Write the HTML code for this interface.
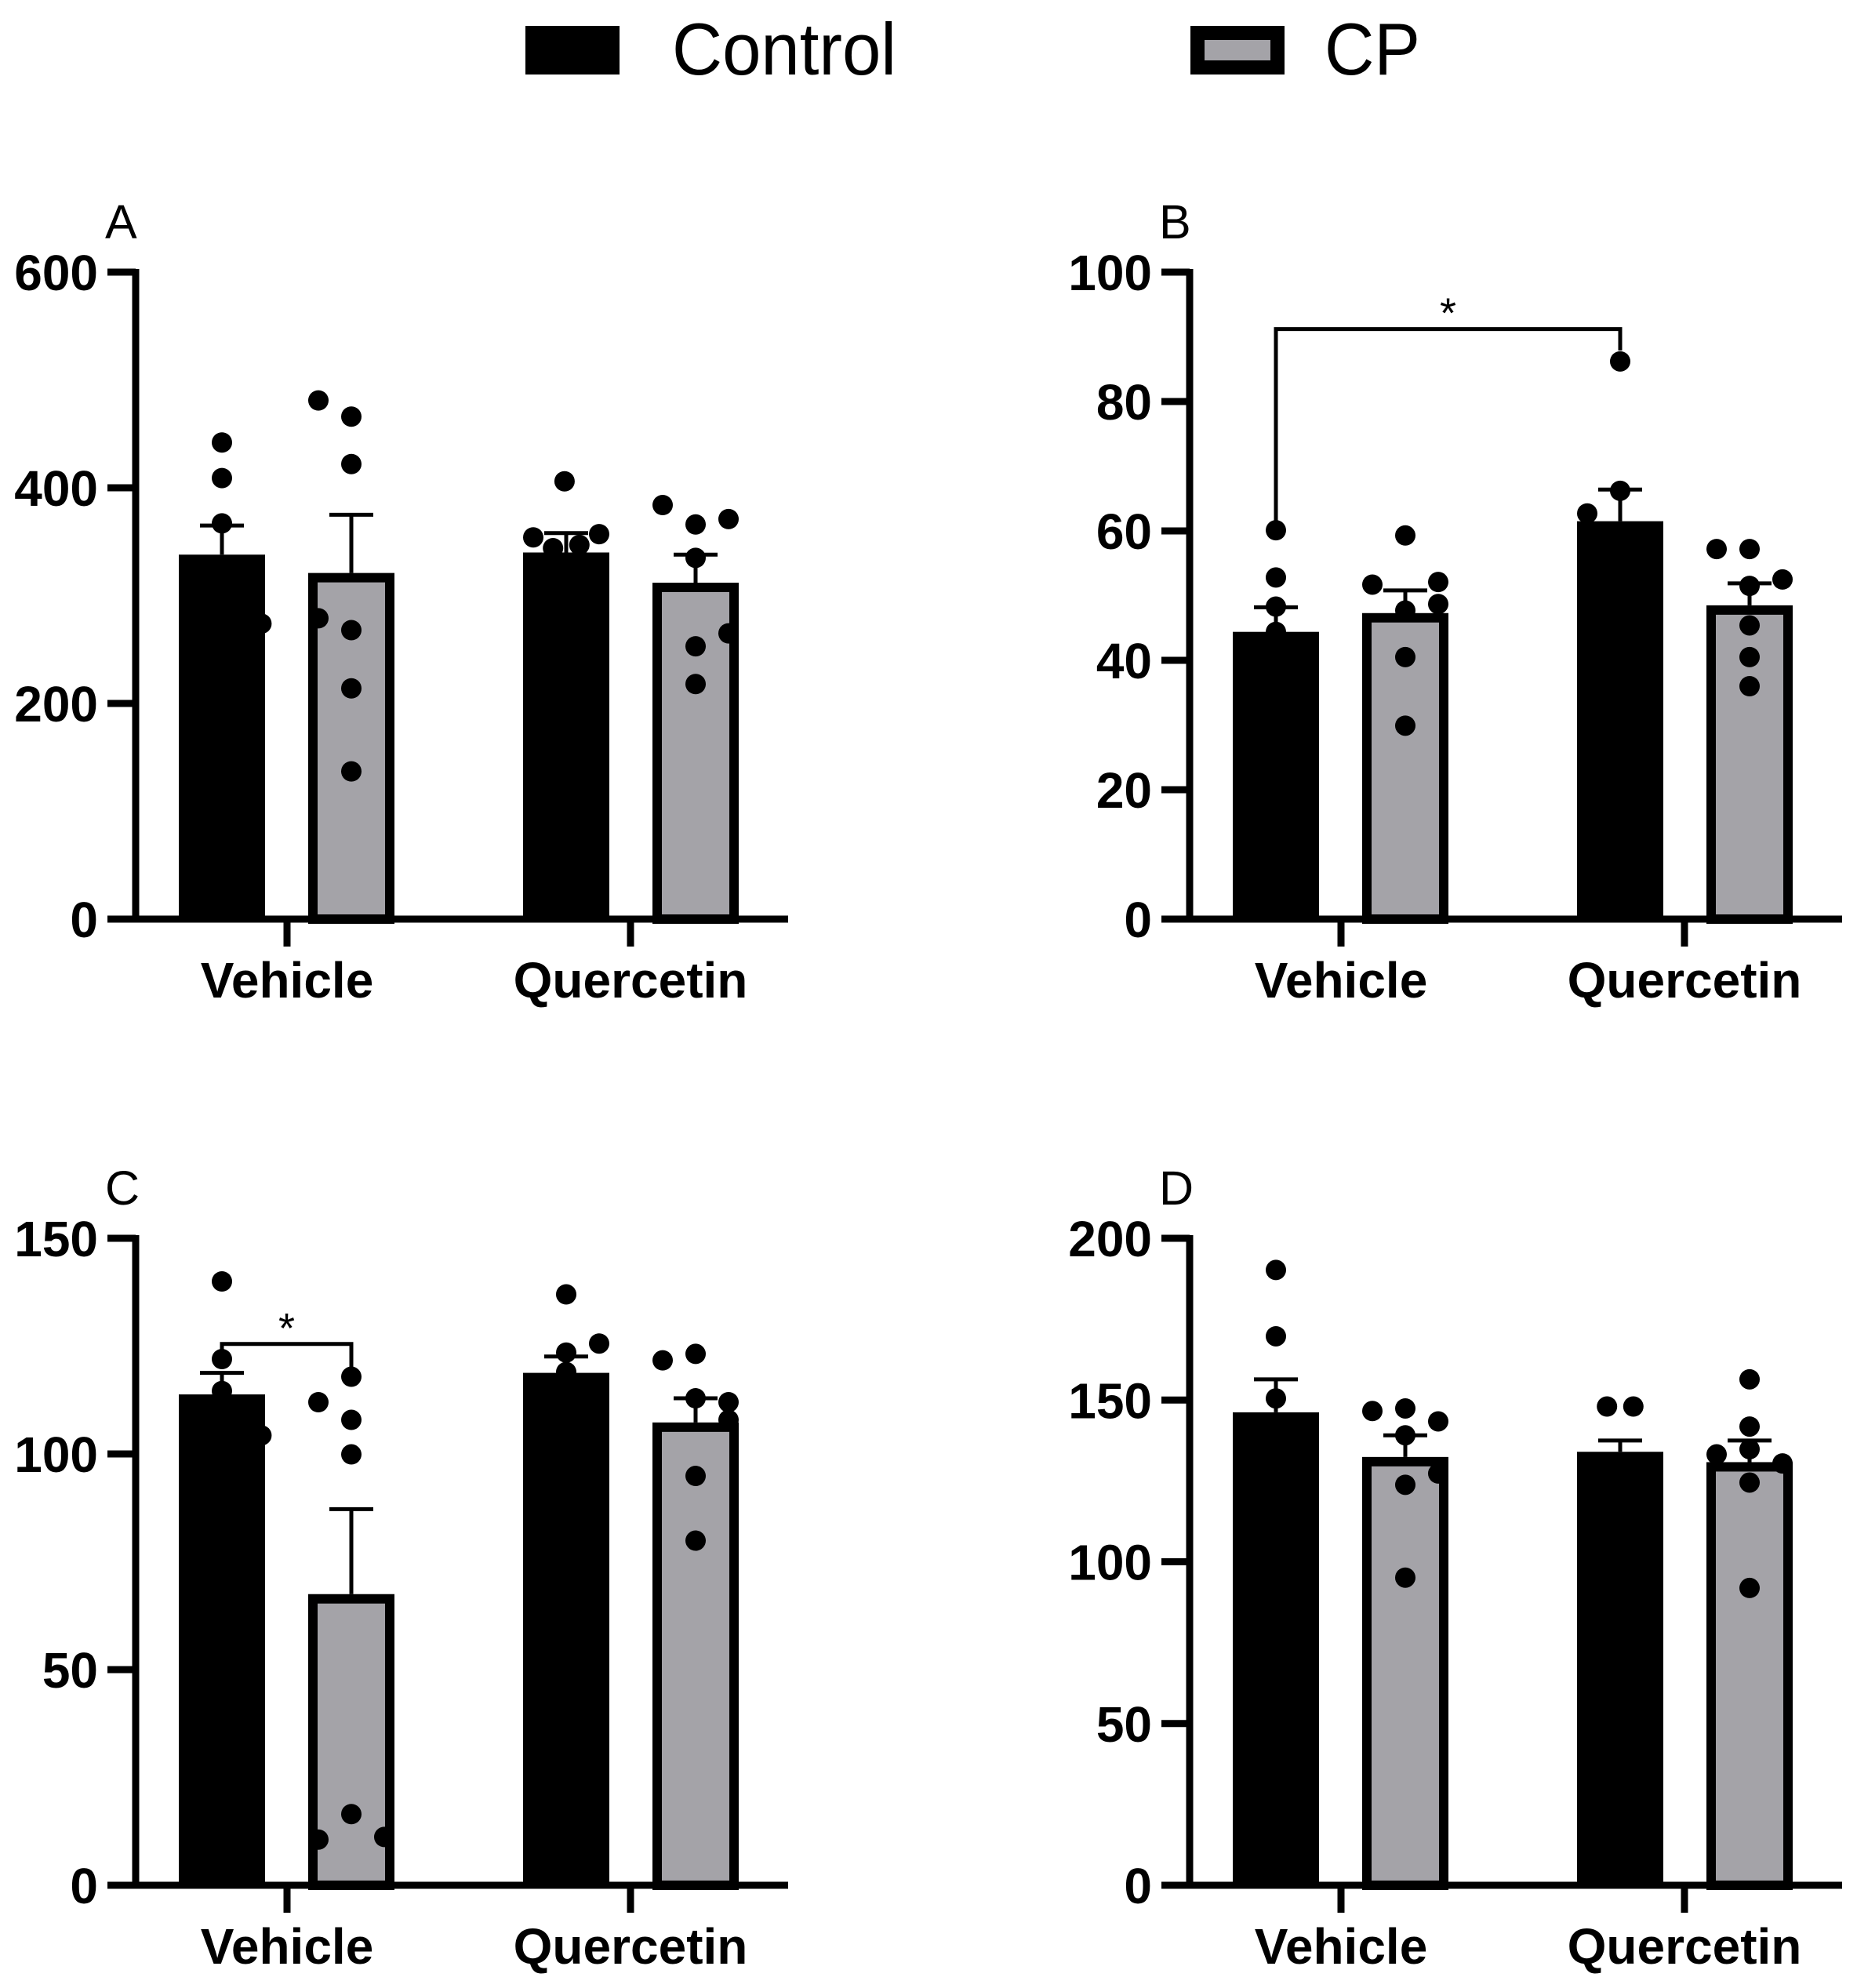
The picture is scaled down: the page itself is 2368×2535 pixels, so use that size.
<!DOCTYPE html>
<html><head><meta charset="utf-8"><style>
html,body{margin:0;padding:0;background:#fff}
svg{display:block}
text{font-family:"Liberation Sans",Arial,sans-serif}
</style></head><body>
<svg id="chart" width="2368" height="2535" viewBox="0 0 2368 2535" xmlns="http://www.w3.org/2000/svg">
<g>
  <rect x="670" y="33" width="120" height="62" fill="#000"/>
  <text x="857" y="95" font-size="94" textLength="286" lengthAdjust="spacingAndGlyphs">Control</text>
  <rect x="1527" y="42" width="102" height="44" fill="#a4a3a8" stroke="#000" stroke-width="18"/>
  <text x="1689" y="95" font-size="94" textLength="122" lengthAdjust="spacingAndGlyphs">CP</text>
</g>
</svg>
<script>
// ---- data ----
const groups = ["Vehicle", "Quercetin"];
const series = ["Control", "CP"];
// order: Control-Vehicle, CP-Vehicle, Control-Quercetin, CP-Quercetin
const aMeans = [338, 321, 340, 312];
const aErr   = [365, 375, 358, 338];
const aDots  = [[442,409,367,274],[481,466,422,279,268,214,137],[406,354,357,344,347],[384,366,371,335,265,253,218]];
const aCols  = [[0,0,0,1.2],[-1,0,0,-1,0,0,0],[-0.05,-1,1,-0.4,0.4],[-1,0,1,0,1,0,0]];
const aTicks = [0,200,400,600];

const bMeans = [44.4, 47.3, 61.5, 48.5];
const bErr   = [48.2, 50.8, 66.4, 51.9];
const bDots  = [[60.1,52.8,48.3,44.4],[59.3,51.7,52.1,47.7,48.7,40.5,29.9],[86.2,66.2,62.7],[57.2,57.2,52.5,51.5,45.4,40.5,36]];
const bCols  = [[0,0,0,0],[0,-1,1,0,1,0,0],[0,0,-1],[-1,0,1,0,0,0,0]];
const bTicks = [0,20,40,60,80,100];

const cMeans = [113.8, 67.5, 118.8, 107.3];
const cErr   = [118.8, 87.2, 122.6, 112.9];
const cDots  = [[140,122,114.6,104.3],[117.9,112,107.9,99.9,16.5,10.6,11.2],[137,125.6,123.5,119],[121.7,123.2,112.9,112,107.9,94.9,79.9]];
const cCols  = [[0,0,0,1.2],[0,-1,0,0,0,-1,1],[0,1,0,0],[-1,0,0,1,1,0,0]];
const cTicks = [0,50,100,150];

const dMeans = [146.2, 132.4, 134, 130.8];
const dErr   = [156.4, 139.1, 137.5, 137.5];
const dDots  = [[190.2,169.7,150.5],[146.6,147.4,143.4,139.1,127.3,123.8,95.1],[148,148],[156.4,141.8,133.2,134.8,130.4,124.5,91.9]];
const dCols  = [[0,0,0],[-1,0,1,0,1,0,0],[-0.4,0.4],[0,0,-1,0,1,0,0]];
const dTicks = [0,50,100,150,200];

const NS = "http://www.w3.org/2000/svg";
const svg = document.getElementById("chart");
function mk(tag, attrs, parent) {
  const e = document.createElementNS(NS, tag);
  for (const k in attrs) e.setAttribute(k, attrs[k]);
  parent.appendChild(e);
  return e;
}

function panel(letter, ox, y0, ymax, ticks, means, err, dots, cols, brackets) {
  const H = 825;
  const y = v => y0 - v / ymax * H;
  const g = mk("g", {}, svg);
  
  
  const lt = mk("text", {x: ox - 39, y: y0 - H - 43, "font-size": 61}, g);
  lt.textContent = letter;
  
  
  const centers = [ox + 110, ox + 275, ox + 549, ox + 714];
  const W = 110;
  for (let i = 0; i < 4; i++) {
    const cp = i % 2 === 1;
    const top = y(means[i]);
    let r;
    if (cp) r = mk("rect", {x: centers[i] - W/2 + 6, y: top + 6, width: W - 12, height: y0 - top - 6, fill: "#a4a3a8", stroke: "#000", "stroke-width": 12}, g);
    else r = mk("rect", {x: centers[i] - W/2, y: top, width: W, height: y0 - top, fill: "#000"}, g);
    
    
    const e = mk("path", {d: `M${centers[i]} ${top} V${y(err[i])} M${centers[i]-28} ${y(err[i])} H${centers[i]+28}`, stroke: "#000", "stroke-width": 5, fill: "none"}, g);
    
    
  }
  for (let i = 0; i < 4; i++) {
    dots[i].forEach((v, j) => {
      const c = mk("circle", {cx: centers[i] + cols[i][j] * 42, cy: y(v), r: 13, fill: "#000"}, g);
      
      
    });
  }
  const ax = mk("path", {d: `M${ox} ${y0 - H - 4} V${y0 + 4} M${ox - 36} ${y0} H${ox + 832}`, stroke: "#000", "stroke-width": 9, fill: "none"}, g);
  
  
  ticks.forEach(t => {
    const tk = mk("path", {d: `M${ox - 36} ${y(t)} H${ox}`, stroke: "#000", "stroke-width": 9}, g);
    
    
    const tl = mk("text", {x: ox - 48, y: y(t) + 23, "font-size": 64, "font-weight": "bold", "text-anchor": "end"}, g);
    tl.textContent = t;
    
    
  });
  [ox + 193, ox + 631].forEach((gx, k) => {
    const tk = mk("path", {d: `M${gx} ${y0} V${y0 + 35}`, stroke: "#000", "stroke-width": 9}, g);
    
    
    const tl = mk("text", {x: gx, y: y0 + 100, "font-size": 64, "font-weight": "bold", "text-anchor": "middle"}, g);
    tl.textContent = groups[k];
    
    
  });
  (brackets || []).forEach(b => {
    const [i1, i2, vy, v1, v2] = b;
    const p = mk("path", {d: `M${centers[i1]} ${y(v1)} V${y(vy)} H${centers[i2]} V${y(v2)}`, stroke: "#000", "stroke-width": 5, fill: "none"}, g);
    
    
    const s = mk("text", {x: (centers[i1] + centers[i2]) / 2, y: y(vy) - 2, "font-size": 54, "text-anchor": "middle"}, g);
    s.textContent = "*";
    
    
  });
}

panel("A", 173, 1172, 600, aTicks, aMeans, aErr, aDots, aCols);
panel("B", 1517, 1172, 100, bTicks, bMeans, bErr, bDots, bCols, [[0, 2, 91.2, 60.6, 87.9]]);
panel("C", 173, 2404, 150, cTicks, cMeans, cErr, cDots, cCols, [[0, 1, 125.5, 120, 117]]);
panel("D", 1517, 2404, 200, dTicks, dMeans, dErr, dDots, dCols);
</script>
</body></html>
